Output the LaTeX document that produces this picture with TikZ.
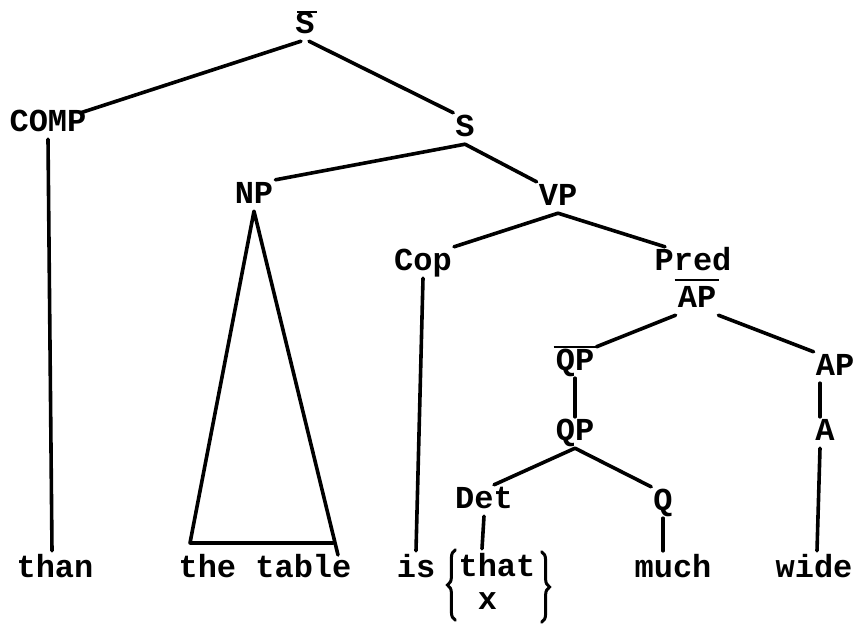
\documentclass[tikz,border=0pt]{standalone}
\usepackage{fontspec}
\setmainfont{Liberation Mono}
\usetikzlibrary{decorations.pathreplacing}
\newcommand\ThatXBox{\begin{tabular}{@{}l@{}}that\\\ x\end{tabular}}
\begin{document}
\begin{tikzpicture}[x=1pt,y=-1pt,
  lab/.style={font=\bfseries\fontsize{32}{34}\selectfont, inner sep=2pt, text height=21pt, text depth=6pt, anchor=base},
  leaf/.style={lab, text height=24pt},
  braced/.style={font=\bfseries\fontsize{32}{33}\selectfont, inner sep=0pt, anchor=center},
  br/.style={line width=3.6pt, line cap=round, line join=round},
  ovl/.style={line width=2.6pt},
  curly/.style={decorate, decoration={brace, amplitude=8pt}, line width=3pt, line cap=round}]
\fill[white] (0,0) rectangle (857,624);
\useasboundingbox (0,0) rectangle (857,624);
% category labels
\node[lab] (Sbar) at (305,33) {S};
\node[lab] (COMP) at (48,131) {COMP};
\node[lab] (S) at (465,136) {S};
\node[lab] (NP) at (254,203) {NP};
\node[lab] (VP) at (558,205) {VP};
\node[lab] (Cop) at (423,270) {Cop};
\node[lab] (Pred) at (693,270) {Pred};
\node[lab] (APbar) at (697,307) {AP};
\node[lab] (QPbar) at (575,370) {QP};
\node[lab] (AP) at (835,375) {AP};
\node[lab] (QP) at (575,440) {QP};
\node[lab] (A) at (825,440) {A};
\node[lab] (Det) at (484,508) {Det};
\node[lab] (Q) at (663,510) {Q};
% leaves
\node[leaf] (than) at (55,577) {than};
\node[leaf] (table) at (265,577) {the table};
\node[leaf] (is) at (416,577) {is};
\node[braced] (thatx) at (497,586) {\ThatXBox};
\node[leaf] (much) at (673,577) {much};
\node[leaf] (wide) at (814,577) {wide};
% braces round the alternatives
\draw[curly] ([xshift=-3pt,yshift=-1pt]thatx.south west) -- ([xshift=-3pt,yshift=3pt]thatx.north west);
\draw[curly] ([xshift=6pt,yshift=1pt]thatx.north east) -- ([xshift=6pt,yshift=-3pt]thatx.south east);
% bars
\draw[ovl] ([xshift=4pt,yshift=-2pt]Sbar.north west) -- ([yshift=-2pt]Sbar.north east);
\draw[ovl] ([xshift=-1pt,yshift=4pt]APbar.north west) -- ([xshift=1pt,yshift=4pt]APbar.north east);
\draw[ovl] (QPbar.north west) -- (QPbar.north east);
% branches
\draw[br] ([xshift=-4pt]Sbar.south) -- ([xshift=-8pt,yshift=-5pt]COMP.north east);
\draw[br] ([xshift=4pt]Sbar.south) -- (S.north west);
\draw[br] (COMP.south) -- ([xshift=-3pt]than.north);
\draw[br] (S.south) -- (NP.north east);
\draw[br] (S.south) -- (VP.north west);
\coordinate (tl) at (190,543);
\coordinate (tr) at (333,543);
\coordinate (te) at (338,555);
\draw[br] (te) -- (NP.south) -- (tl) -- (tr);
\draw[br] (VP.south) -- (Cop.north east);
\draw[br] (VP.south) -- ([xshift=-28pt]Pred.north);
\draw[br] (Cop.south) -- (is.north);
\draw[br] (APbar.south west) -- (QPbar.north east);
\draw[br] (APbar.south east) -- (AP.north west);
\draw[br] (QPbar.south) -- (QP.north);
\draw[br] ([xshift=-15pt]AP.south) -- ([xshift=-5pt]A.north);
\draw[br] (QP.south) -- ([xshift=10pt]Det.north);
\draw[br] (QP.south) -- (Q.north west);
\draw[br] (Det.south) -- ([xshift=-15pt,yshift=4pt]thatx.north);
\draw[br] (Q.south) -- ([xshift=-10pt]much.north);
\draw[br] ([xshift=-5pt]A.south) -- ([xshift=3pt]wide.north);
\end{tikzpicture}
\end{document}
